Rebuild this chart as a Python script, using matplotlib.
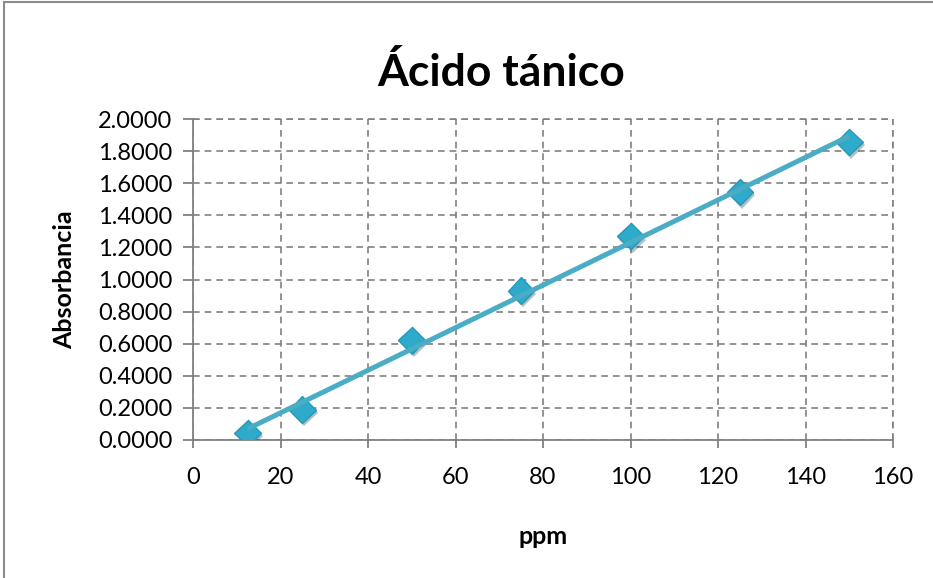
import numpy as np
import matplotlib
matplotlib.use("Agg")
import matplotlib.pyplot as plt
import matplotlib.patheffects as pe
from matplotlib.patches import Rectangle

# data
ppm = [12.5, 25, 50, 75, 100, 125, 150]
absorbancia = [0.044, 0.19, 0.62, 0.93, 1.27, 1.545, 1.857]

x_ticks = [0, 20, 40, 60, 80, 100, 120, 140, 160]
y_ticks = np.arange(0, 2.01, 0.2)

plt.rcParams['font.family'] = ['Lato', 'DejaVu Sans']

fig = plt.figure(figsize=(9.33, 5.78), dpi=100)
ax = fig.add_axes([193/933, 1 - 440/578, 700/933, 321/578])

# outer chart border (Excel-style)
fig.patches.append(Rectangle((4/933, -0.1), 1.2, 1 - 2/578 + 0.1, transform=fig.transFigure,
                             fill=False, edgecolor='#8c8c8c', linewidth=1.5))

# linear trend line
m, b = np.polyfit(ppm, absorbancia, 1)
xs = np.array([min(ppm), max(ppm)])
ax.plot(xs, m * xs + b, color='#4bacc6', linewidth=3.6, zorder=4, solid_capstyle='butt')

# markers with a soft shadow
ax.plot(ppm, absorbancia, linestyle='none', marker='D', markersize=13.5,
        markerfacecolor='#2eaacb', markeredgecolor='#2698ba', markeredgewidth=1,
        zorder=3,
        path_effects=[pe.SimplePatchShadow(offset=(1.5, -2.5), alpha=0.3), pe.Normal()])

ax.set_xlim(0, 160)
ax.set_ylim(0, 2.0)
ax.set_xticks(x_ticks)
ax.set_yticks(y_ticks)
ax.set_yticklabels([f'{v:.4f}' for v in y_ticks])

ax.grid(True, color='#808080', linestyle=(0, (4, 3)), linewidth=1.2)
ax.set_axisbelow(True)
for side in ['top', 'right']:
    ax.spines[side].set_visible(False)
for side in ['left', 'bottom']:
    ax.spines[side].set_color('#808080')
    ax.spines[side].set_linewidth(1.3)
# dashed border along the top and right limits
ax.plot([0, 160], [2.0, 2.0], color='#808080', linestyle=(0, (4, 3)), linewidth=1.2, clip_on=False, zorder=1)
ax.plot([160, 160], [0, 2.0], color='#808080', linestyle=(0, (4, 3)), linewidth=1.2, clip_on=False, zorder=1)

ax.tick_params(axis='both', direction='out', width=1.3, color='#808080',
               labelsize=17, labelcolor='black')
ax.tick_params(axis='x', length=5.5, pad=14)
ax.tick_params(axis='y', length=7, pad=8)

fig.text(501/933, 1 - 72/578, 'Ácido tánico', fontsize=32, fontweight='bold',
         ha='center', va='center')
ax.set_xlabel('ppm', fontsize=18, fontweight='bold')
ax.set_ylabel('Absorbancia', fontsize=18, fontweight='bold')
ax.xaxis.set_label_coords((543 - 193) / 700, (440 - 525) / 321)
ax.yaxis.set_label_coords((76 - 193) / 700, 0.5)

fig.savefig('out.png', dpi=100)
